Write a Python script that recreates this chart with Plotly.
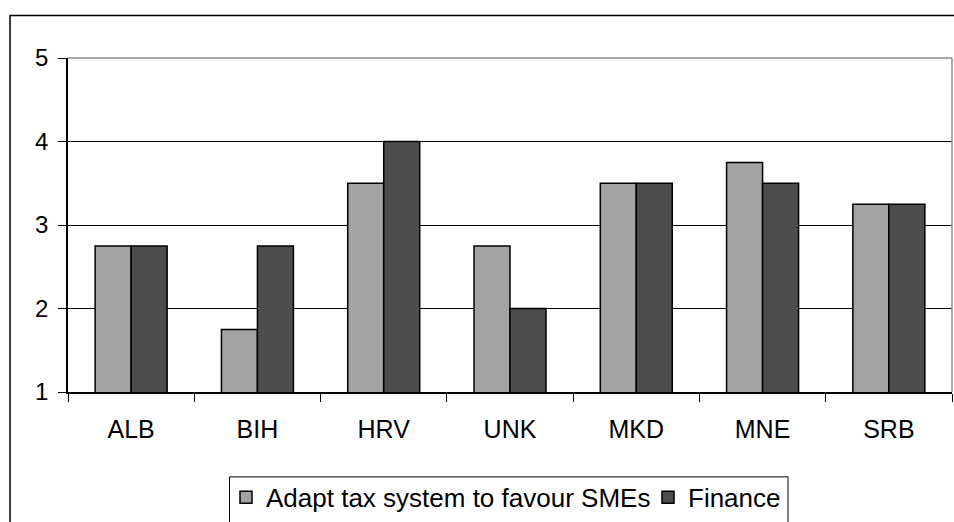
import plotly.graph_objects as go

# Country scores on a 1-5 scale
countries = ["ALB", "BIH", "HRV", "UNK", "MKD", "MNE", "SRB"]
tax_sme = [2.75, 1.75, 3.5, 2.75, 3.5, 3.75, 3.25]
finance = [2.75, 2.75, 4.0, 2.0, 3.5, 3.5, 3.25]
y_ticks = [1, 2, 3, 4, 5]

FONT = "Liberation Sans, Arial, sans-serif"

fig = go.Figure()
fig.add_trace(go.Bar(
    x=countries, y=tax_sme, name="Adapt tax system to favour SMEs",
    marker=dict(color="#A3A3A3", line=dict(color="#000000", width=1.5)),
    legend="legend",
))
fig.add_trace(go.Bar(
    x=countries, y=finance, name="Finance",
    marker=dict(color="#4D4D4D", line=dict(color="#000000", width=1.5)),
    legend="legend2",
))

# plot-area geometry in pixels
W, H = 954, 522
L, R, T, B = 68, 952, 57.5, 392
pw, ph = R - L, B - T

def px_x(x):
    return (x - L) / pw

def px_y(y):
    return (B - y) / ph

shapes = [
    # outer chart frame
    dict(type="rect", xref="paper", yref="paper",
         x0=px_x(10), x1=px_x(W + 20), y0=px_y(H + 20), y1=px_y(15),
         line=dict(color="#000000", width=1.5), fillcolor="rgba(0,0,0,0)", layer="below"),
    # legend frame
    dict(type="rect", xref="paper", yref="paper",
         x0=px_x(229.5), x1=px_x(788), y0=px_y(H + 20), y1=px_y(477),
         line=dict(color="#000000", width=1), fillcolor="rgba(0,0,0,0)", layer="below"),
    # plot-area border, top and right
    dict(type="line", xref="paper", yref="paper", x0=0, x1=1, y0=1, y1=1,
         line=dict(color="#8C8C8C", width=1.5)),
    dict(type="line", xref="paper", yref="paper", x0=1, x1=1, y0=0, y1=1,
         line=dict(color="#8C8C8C", width=1.5)),
]

legend_style = dict(
    orientation="h", xanchor="left", yanchor="top",
    borderwidth=0, bgcolor="rgba(0,0,0,0)",
    font=dict(family=FONT, size=26, color="#000000"),
    itemclick=False,
)

fig.update_layout(
    width=W, height=H,
    margin=dict(l=L, r=W - R, t=T, b=H - B, pad=0, autoexpand=False),
    paper_bgcolor="white", plot_bgcolor="white",
    barmode="group", bargap=0.43, bargroupgap=0,
    font=dict(family=FONT, size=25, color="#000000"),
    showlegend=True,
    legend=dict(x=px_x(226), y=px_y(474), **legend_style),
    legend2=dict(x=px_x(648), y=px_y(474), **legend_style),
    shapes=shapes,
)

fig.update_xaxes(
    automargin=False,
    showline=True, linecolor="#000000", linewidth=1.5,
    ticks="outside", tickson="boundaries", ticklen=8, tickcolor="#000000", tickwidth=1,
    showgrid=False, tickfont=dict(size=25), ticklabelstandoff=14,
)
fig.update_yaxes(
    automargin=False,
    range=[1, 5], tickvals=y_ticks, ticktext=[str(v) for v in y_ticks],
    showline=True, linecolor="#000000", linewidth=1.5,
    ticks="outside", ticklen=8, tickcolor="#000000", tickwidth=1,
    showgrid=True, gridcolor="#000000", gridwidth=1, zeroline=False,
    tickfont=dict(size=24), ticklabelstandoff=5,
)

fig.write_html("out.html")
